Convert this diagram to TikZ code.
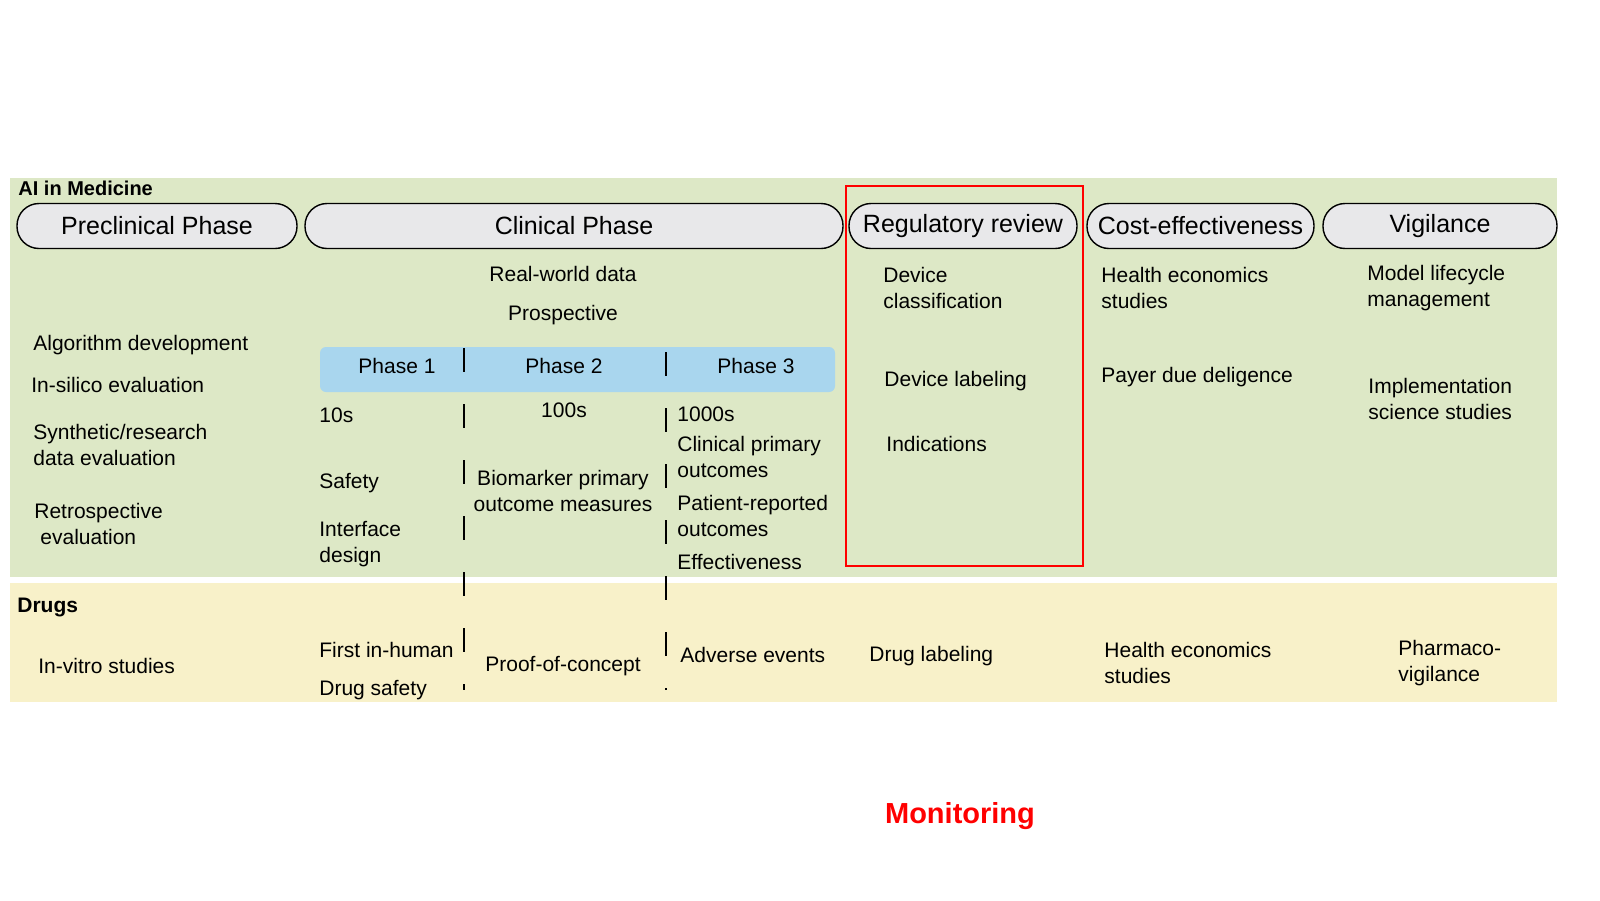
\documentclass[tikz,border=0pt]{standalone}
\usepackage{fontspec}
\setmainfont{Liberation Sans}
\usetikzlibrary{positioning}
\definecolor{aigreen}{HTML}{DDE8C6}
\definecolor{drugyellow}{HTML}{F8F1C9}
\definecolor{phaseblue}{HTML}{A9D6EE}
\definecolor{pillgray}{HTML}{E8E8EA}

\begin{document}
\begin{tikzpicture}
    [
        x=0.5pt, y=-0.5pt,
        txt/.style={inner sep=0pt, align=left, anchor=west, font=\fontsize{10.5}{13}\selectfont},
        ctxt/.style={txt, anchor=center, align=center},
        pill/.style={draw=black, fill=pillgray, line width=0.7pt, rounded corners=11pt, inner sep=0pt, minimum height=22.5pt, font=\fontsize{12.5}{15}\selectfont},
        phase_line/.style={line width=0.8pt, dash pattern=on 12pt off 16pt},
    ]
        % bands
        \fill[aigreen] (10,178) rectangle (1557,577);
        \fill[drugyellow] (10,583) rectangle (1557,702);
        \node[txt, font=\bfseries\fontsize{10}{12}\selectfont] (ai) at (18,188) {AI in Medicine};
        \node[txt, font=\bfseries\fontsize{10.5}{13}\selectfont] (drugs) at (17,607) {Drugs};
        % phase headers
        \node[pill, minimum width=140pt] (pre) at (157,226) {Preclinical Phase};
        \node[pill, minimum width=269pt] (clin) at (574,226) {Clinical Phase};
        \node[pill, minimum width=114pt] (reg) at (963,226) {Regulatory review};
        \node[pill, minimum width=113.5pt] (cost) at (1200.5,226) {Cost-effectiveness};
        \node[pill, minimum width=117pt] (vig) at (1440,226) {Vigilance};
        % clinical phases
        \fill[phaseblue, rounded corners=3pt] (320,347) rectangle (835,392);
        \node[ctxt] (p1) at (397,366) {Phase 1};
        \node[ctxt] (p2) at (564,366) {Phase 2};
        \node[ctxt] (p3) at (756,366) {Phase 3};
        \draw[phase_line] (464,348) -- (464,690);
        \draw[phase_line] (666,352) -- (666,690);
        % preclinical
        \node[txt] (algo) at (33,345) {Algorithm development};
        \node[txt] (silico) at (31,385) {In-silico evaluation};
        \node[txt] (synth) at (33,445) {Synthetic/research\\data evaluation};
        \node[txt] (retro) at (34,524) {Retrospective\\\hspace*{3pt}evaluation};
        % clinical
        \node[ctxt] (rwd) at (563,274) {Real-world data};
        \node[ctxt] (prosp) at (563,315) {Prospective};
        \node[txt] (n10) at (319,415) {10s};
        \node[ctxt] (n100) at (564,410) {100s};
        \node[txt] (n1000) at (677,414) {1000s};
        \node[txt] (safety) at (319,483) {Safety};
        \node[txt] (iface) at (319,544) {Interface\\design};
        \node[ctxt] (bio) at (563,491) {Biomarker primary\\outcome measures};
        \node[txt] (cpo) at (677,457) {Clinical primary\\outcomes};
        \node[txt] (pro) at (677,516) {Patient-reported\\outcomes};
        \node[txt] (eff) at (677,562) {Effectiveness};
        % regulatory
        \node[txt] (dclass) at (883,288) {Device\\classification};
        \node[txt] (dlab) at (884,381) {Device labeling};
        \node[txt] (ind) at (886,444) {Indications};
        \draw[red, line width=1.3pt] (846,186) rectangle (1083,566);
        % cost and vigilance
        \node[txt] (heco) at (1101,288) {Health economics\\studies};
        \node[txt] (payer) at (1101,377) {Payer due deligence};
        \node[txt] (mlm) at (1367,288) {Model lifecycle\\management};
        \node[txt] (impl) at (1368,399) {Implementation\\science studies};
        % drugs
        \node[txt] (vitro) at (38,666) {In-vitro studies};
        \node[txt] (fih) at (319,650) {First in-human};
        \node[txt] (dsafe) at (319,690) {Drug safety};
        \node[ctxt] (poc) at (563,666) {Proof-of-concept};
        \node[txt] (adv) at (680,655) {Adverse events};
        \node[txt] (dlabel) at (869,656) {Drug labeling};
        \node[txt] (heco2) at (1104,663) {Health economics\\studies};
        \node[txt] (pharm) at (1398,663) {Pharmaco-\\vigilance};
        % monitoring
        \node[ctxt, text=red, font=\bfseries\fontsize{14.5}{17}\selectfont] (mon) at (960,816) {Monitoring};
        \pgfresetboundingbox
        \useasboundingbox (0,0) rectangle (1600,900);
    \end{tikzpicture}
\end{document}
